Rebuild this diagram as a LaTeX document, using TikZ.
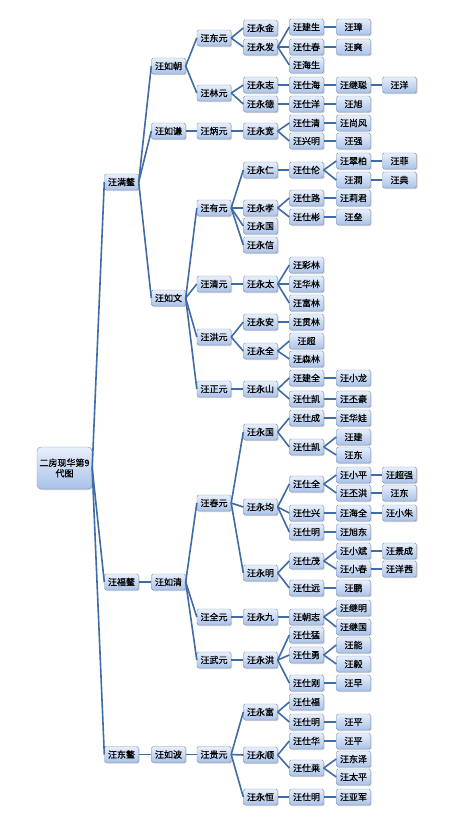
\documentclass[tikz,border=0pt]{standalone}
\usepackage{fontspec}
\setmainfont{Noto Sans CJK SC}[FakeBold=0.6]
\usetikzlibrary{shadows}
\definecolor{LineBlue}{HTML}{3F6CA4}
\definecolor{BoxTop}{HTML}{E8EFFB}
\definecolor{BoxBottom}{HTML}{A9C2E9}
\definecolor{BoxEdge}{HTML}{7D93B4}
\tikzset{every node/.style={font=\fontsize{9}{10.5}\selectfont},person/.style={draw=BoxEdge,
 top color=BoxTop,bottom color=BoxBottom,rounded corners=1.5pt,minimum width=34pt,
 minimum height=16pt,inner sep=0pt,drop shadow={shadow xshift=1pt,shadow yshift=-1pt,opacity=.35}},
 every edge/.style={draw=LineBlue,line width=1.6pt}}
\begin{document}
\begin{tikzpicture}[x=1pt,y=-1pt]
\useasboundingbox[fill=white] (0,0) rectangle (459,838);
% root
\node[person,minimum width=55pt,minimum height=42pt,align=center,rounded corners=4pt] (r)
 at (64.5,468) {二房现华第9\\代图};
% generation 1 and 2
\node[person] (a1) at (121.5,182) {汪满鳌}; \node[person] (a2) at (121.5,582) {汪福鳌};
\node[person] (a3) at (121.5,754.5) {汪东鳌};
\node[person] (b1) at (168.5,66) {汪如朝}; \node[person] (b2) at (168.5,131) {汪如谦};
\node[person] (b3) at (168.5,298) {汪如文}; \node[person] (b4) at (168.5,582) {汪如清};
\node[person] (b5) at (168.5,754.5) {汪如波};
% generation 3
\node[person] (c1) at (214,38) {汪东元}; \node[person] (c2) at (214,93) {汪林元};
\node[person] (c3) at (214,131) {汪炳元}; \node[person] (c4) at (214,208) {汪有元};
\node[person] (c5) at (214,284) {汪清元}; \node[person] (c6) at (214,337) {汪洪元};
\node[person] (c7) at (214,389) {汪正元}; \node[person] (c8) at (214,503) {汪春元};
\node[person] (c9) at (214,617) {汪全元}; \node[person] (c10) at (214,660) {汪武元};
\node[person] (c11) at (214,754.5) {汪贵元};
% generation 4
\node[person] (d1) at (260.5,28) {汪永金}; \node[person] (d2) at (260.5,47) {汪永发};
\node[person] (d3) at (260.5,85) {汪永志}; \node[person] (d4) at (260.5,104) {汪永德};
\node[person] (d5) at (260.5,131) {汪永宽}; \node[person] (d6) at (260.5,170) {汪永仁};
\node[person] (d7) at (260.5,208) {汪永孝}; \node[person] (d8) at (260.5,226) {汪永国};
\node[person] (d9) at (260.5,245) {汪永信}; \node[person] (d10) at (260.5,284) {汪永太};
\node[person] (d11) at (260.5,322) {汪永安}; \node[person] (d12) at (260.5,351) {汪永全};
\node[person] (d13) at (260.5,389) {汪永山}; \node[person] (d14) at (260.5,432) {汪永国};
\node[person] (d15) at (260.5,507) {汪永均}; \node[person] (d16) at (260.5,573) {汪永明};
\node[person] (d17) at (260.5,617) {汪永九}; \node[person] (d18) at (260.5,660) {汪永洪};
\node[person] (d19) at (260.5,712) {汪永富}; \node[person] (d20) at (260.5,755) {汪永顺};
\node[person] (d21) at (260.5,797) {汪永恒};
% generation 5
\node[person] (e1) at (306.5,27) {汪建生}; \node[person] (e2) at (306.5,47) {汪仕春};
\node[person] (e3) at (306.5,65) {汪海生}; \node[person] (e4) at (306.5,85) {汪仕海};
\node[person] (e5) at (306.5,104) {汪仕洋}; \node[person] (e6) at (306.5,123) {汪仕清};
\node[person] (e7) at (306.5,141) {汪兴明}; \node[person] (e8) at (306.5,170) {汪仕伦};
\node[person] (e9) at (306.5,198) {汪仕路}; \node[person] (e10) at (306.5,217) {汪仕彬};
\node[person] (e11) at (306.5,265) {汪彩林}; \node[person] (e12) at (306.5,284) {汪华林};
\node[person] (e13) at (306.5,303) {汪富林}; \node[person] (e14) at (306.5,322) {汪贯林};
\node[person] (e15) at (306.5,341) {汪超}; \node[person] (e16) at (306.5,359) {汪森林};
\node[person] (e17) at (306.5,378) {汪建全}; \node[person] (e18) at (306.5,399) {汪仕凯};
\node[person] (e19) at (306.5,418) {汪仕成}; \node[person] (e20) at (306.5,447) {汪仕凯};
\node[person] (e21) at (306.5,484) {汪仕全}; \node[person] (e22) at (306.5,513) {汪仕兴};
\node[person] (e23) at (306.5,532) {汪仕明}; \node[person] (e24) at (306.5,561) {汪仕茂};
\node[person] (e25) at (306.5,588) {汪仕远}; \node[person] (e26) at (306.5,617) {汪朝志};
\node[person] (e27) at (306.5,635) {汪仕猛}; \node[person] (e28) at (306.5,655) {汪仕勇};
\node[person] (e29) at (306.5,683) {汪仕刚}; \node[person] (e30) at (306.5,702) {汪仕福};
\node[person] (e31) at (306.5,722) {汪仕明}; \node[person] (e32) at (306.5,741) {汪仕华};
\node[person] (e33) at (306.5,768) {汪仕莱}; \node[person] (e34) at (306.5,797) {汪仕明};
% generation 6
\node[person] (f1) at (353.5,27) {汪璋}; \node[person] (f2) at (353.5,47) {汪爽};
\node[person] (f3) at (353.5,85) {汪继聪}; \node[person] (f4) at (353.5,104) {汪旭};
\node[person] (f5) at (353.5,123) {汪尚风}; \node[person] (f6) at (353.5,141) {汪强};
\node[person] (f7) at (353.5,161) {汪翠柏}; \node[person] (f8) at (353.5,180) {汪潤};
\node[person] (f9) at (353.5,198) {汪莉君}; \node[person] (f10) at (353.5,217) {汪垒};
\node[person] (f11) at (353.5,378) {汪小龙}; \node[person] (f12) at (353.5,399) {汪丕豪};
\node[person] (f13) at (353.5,418) {汪华娃}; \node[person] (f14) at (353.5,437) {汪建};
\node[person] (f15) at (353.5,455) {汪东}; \node[person] (f16) at (353.5,475) {汪小平};
\node[person] (f17) at (353.5,493) {汪丕洪}; \node[person] (f18) at (353.5,513) {汪海全};
\node[person] (f19) at (353.5,532) {汪旭东}; \node[person] (f20) at (353.5,551) {汪小斌};
\node[person] (f21) at (353.5,569) {汪小春}; \node[person] (f22) at (353.5,588) {汪鹏};
\node[person] (f23) at (353.5,608) {汪继明}; \node[person] (f24) at (353.5,627) {汪继国};
\node[person] (f25) at (353.5,645) {汪能}; \node[person] (f26) at (353.5,664) {汪毅};
\node[person] (f27) at (353.5,683) {汪早}; \node[person] (f28) at (353.5,722) {汪平};
\node[person] (f29) at (353.5,741) {汪平}; \node[person] (f30) at (353.5,759) {汪东泽};
\node[person] (f31) at (353.5,777) {汪太平}; \node[person] (f32) at (353.5,797) {汪亚军};
% generation 7
\node[person] (h1) at (399.5,85) {汪洋}; \node[person] (h2) at (399.5,161) {汪菲};
\node[person] (h3) at (399.5,180) {汪典}; \node[person] (h4) at (399.5,475) {汪超强};
\node[person] (h5) at (399.5,493) {汪东}; \node[person] (h6) at (399.5,513) {汪小朱};
\node[person] (h7) at (399.5,551) {汪景成}; \node[person] (h8) at (399.5,569) {汪洋茜};
% connectors
\path (r.east) edge (a1.west) edge (a2.west) edge (a3.west)
 (a1.east) edge (b1.west) edge (b2.west) edge (b3.west)
 (a2.east) edge (b4.west) (a3.east) edge (b5.west)
 (b1.east) edge (c1.west) edge (c2.west) (b2.east) edge (c3.west)
 (b3.east) edge (c4.west) edge (c5.west) edge (c6.west) edge (c7.west)
 (b4.east) edge (c8.west) edge (c9.west) edge (c10.west) (b5.east) edge (c11.west)
 (c1.east) edge (d1.west) edge (d2.west) (c2.east) edge (d3.west) edge (d4.west)
 (c3.east) edge (d5.west) (c4.east) edge (d6.west) edge (d7.west) edge (d8.west) edge (d9.west)
 (c5.east) edge (d10.west) (c6.east) edge (d11.west) edge (d12.west) (c7.east) edge (d13.west)
 (c8.east) edge (d14.west) edge (d15.west) edge (d16.west) (c9.east) edge (d17.west)
 (c10.east) edge (d18.west) (c11.east) edge (d19.west) edge (d20.west) edge (d21.west);
\path (d2.east) edge (e1.west) edge (e2.west) edge (e3.west) (d3.east) edge (e4.west)
 (d4.east) edge (e5.west) (d5.east) edge (e6.west) edge (e7.west) (d6.east) edge (e8.west)
 (d7.east) edge (e9.west) edge (e10.west) (d10.east) edge (e11.west) edge (e12.west) edge (e13.west)
 (d11.east) edge (e14.west) (d12.east) edge (e15.west) edge (e16.west)
 (d13.east) edge (e17.west) edge (e18.west) (d14.east) edge (e19.west) edge (e20.west)
 (d15.east) edge (e21.west) edge (e22.west) edge (e23.west) (d16.east) edge (e24.west) edge (e25.west)
 (d17.east) edge (e26.west) (d18.east) edge (e27.west) edge (e28.west) edge (e29.west)
 (d19.east) edge (e30.west) edge (e31.west) (d20.east) edge (e32.west) edge (e33.west)
 (d21.east) edge (e34.west);
\path (e1.east) edge (f1.west) (e2.east) edge (f2.west) (e4.east) edge (f3.west)
 (e5.east) edge (f4.west) (e6.east) edge (f5.west) (e7.east) edge (f6.west)
 (e8.east) edge (f7.west) edge (f8.west) (e9.east) edge (f9.west) (e10.east) edge (f10.west)
 (e17.east) edge (f11.west) (e18.east) edge (f12.west) (e19.east) edge (f13.west)
 (e20.east) edge (f14.west) edge (f15.west) (e21.east) edge (f16.west) edge (f17.west)
 (e22.east) edge (f18.west) (e23.east) edge (f19.west) (e24.east) edge (f20.west) edge (f21.west)
 (e25.east) edge (f22.west) (e26.east) edge (f23.west) edge (f24.west)
 (e28.east) edge (f25.west) edge (f26.west) (e29.east) edge (f27.west) (e31.east) edge (f28.west)
 (e32.east) edge (f29.west) (e33.east) edge (f30.west) edge (f31.west) (e34.east) edge (f32.west);
\path (f3.east) edge (h1.west) (f7.east) edge (h2.west) (f8.east) edge (h3.west)
 (f16.east) edge (h4.west) (f17.east) edge (h5.west) (f18.east) edge (h6.west)
 (f20.east) edge (h7.west) (f21.east) edge (h8.west);
\end{tikzpicture}
\end{document}
